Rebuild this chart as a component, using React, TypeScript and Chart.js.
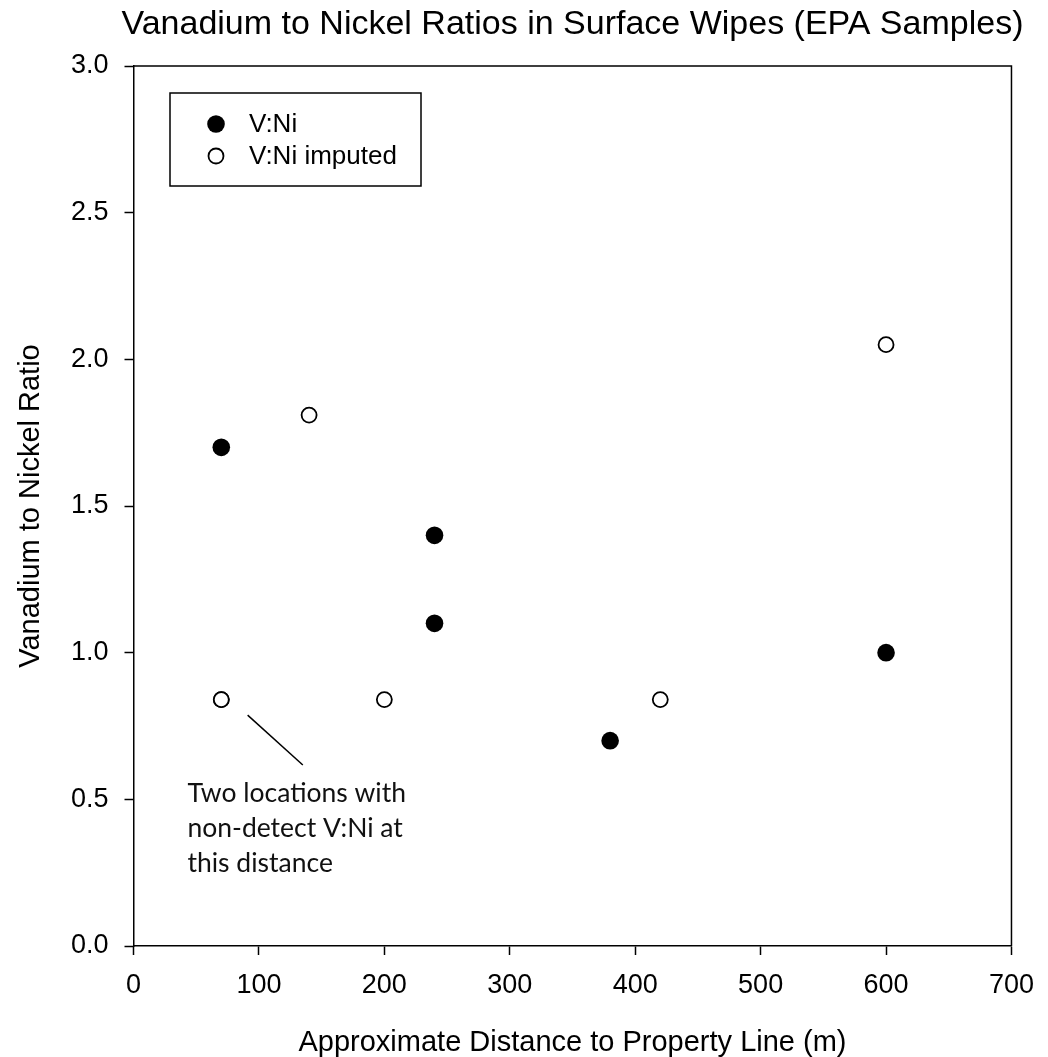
import React, { useEffect, useRef } from "react";
import { Chart, registerables } from "chart.js";

Chart.register(...registerables);

// ---- Data ----
const measuredLabel = "V:Ni";
const measuredX = [70, 240, 240, 380, 600];
const measuredY = [1.7, 1.4, 1.1, 0.7, 1.0];

const imputedLabel = "V:Ni imputed";
const imputedX = [70, 70, 140, 200, 420, 600];
const imputedY = [0.84, 0.84, 1.81, 0.84, 0.84, 2.05];

const chartTitle = "Vanadium to Nickel Ratios in Surface Wipes (EPA Samples)";
const xTitle = "Approximate Distance to Property Line (m)";
const yTitle = "Vanadium to Nickel Ratio";

const xMin = 0, xMax = 700, xStep = 100;
const yMin = 0, yMax = 3, yStep = 0.5;

// annotation (data coordinates)
const noteLines = ["Two locations with", "non-detect V:Ni at", "this distance"];
const noteAnchor = { x: 43, y: 0.491 };
const leaderFrom = { x: 91, y: 0.787 };
const leaderTo = { x: 135, y: 0.617 };

const ARIAL = '"Liberation Sans", Arial, sans-serif';

const decorPlugin = {
  id: "decor",
  afterDraw(chart: any) {
    const { ctx, chartArea: a, scales } = chart;
    const xs = scales.x, ys = scales.y;
    ctx.save();
    // frame (top & right)
    ctx.strokeStyle = "#000";
    ctx.lineWidth = 1.5;
    ctx.beginPath();
    ctx.moveTo(a.left, a.top);
    ctx.lineTo(a.right, a.top);
    ctx.lineTo(a.right, a.bottom);
    ctx.stroke();

    // title
    ctx.fillStyle = "#000";
    ctx.font = `34px ${ARIAL}`;
    ctx.textAlign = "center";
    ctx.textBaseline = "alphabetic";
    ctx.fillText(chartTitle, (a.left + a.right) / 2, 33.5);

    // x title
    ctx.font = `29px ${ARIAL}`;
    ctx.fillText(xTitle, (a.left + a.right) / 2, 1051);

    // y title
    ctx.save();
    ctx.translate(31, (a.top + a.bottom) / 2);
    ctx.rotate(-Math.PI / 2);
    ctx.textBaseline = "middle";
    ctx.fillText(yTitle, 0, 0);
    ctx.restore();

    // legend
    const bx = a.left + 36.5, by = a.top + 27, bw = 251, bh = 93;
    ctx.lineWidth = 1.5;
    ctx.strokeStyle = "#000";
    ctx.fillStyle = "#fff";
    ctx.fillRect(bx, by, bw, bh);
    ctx.strokeRect(bx, by, bw, bh);
    const ds = chart.data.datasets;
    ds.forEach((d: any, i: number) => {
      const cy = by + 31 + i * 32;
      const cx = bx + 46;
      ctx.beginPath();
      ctx.arc(cx, cy, d.pointRadius, 0, Math.PI * 2);
      ctx.fillStyle = d.pointBackgroundColor;
      ctx.fill();
      if (d.pointBorderWidth > 0) {
        ctx.lineWidth = d.pointBorderWidth;
        ctx.strokeStyle = d.pointBorderColor;
        ctx.stroke();
      }
      ctx.fillStyle = "#000";
      ctx.font = `26px ${ARIAL}`;
      ctx.textAlign = "left";
      ctx.textBaseline = "middle";
      ctx.fillText(d.label, bx + 79, cy + 1);
    });

    // annotation leader line
    ctx.strokeStyle = "#000";
    ctx.lineWidth = 1.5;
    ctx.beginPath();
    ctx.moveTo(xs.getPixelForValue(leaderFrom.x), ys.getPixelForValue(leaderFrom.y));
    ctx.lineTo(xs.getPixelForValue(leaderTo.x), ys.getPixelForValue(leaderTo.y));
    ctx.stroke();

    // annotation text
    ctx.fillStyle = "#111";
    ctx.font = `26.5px Lato, "Noto Sans", sans-serif`;
    ctx.textAlign = "left";
    ctx.textBaseline = "alphabetic";
    const tx = xs.getPixelForValue(noteAnchor.x);
    const ty = ys.getPixelForValue(noteAnchor.y);
    noteLines.forEach((t, i) => ctx.fillText(t, tx, ty + i * 35));
    ctx.restore();
  },
};

export default function App() {
  const ref = useRef<HTMLCanvasElement | null>(null);
  useEffect(() => {
    if (!ref.current) return;
    const chart = new Chart(ref.current, {
      type: "scatter",
      data: {
        datasets: [
          {
            label: measuredLabel,
            data: measuredX.map((x, i) => ({ x, y: measuredY[i] })),
            pointRadius: 8.8,
            pointHoverRadius: 8.8,
            pointBackgroundColor: "#000",
            pointBorderColor: "#000",
            pointBorderWidth: 0,
            backgroundColor: "#000",
            borderColor: "#000",
          } as any,
          {
            label: imputedLabel,
            data: imputedX.map((x, i) => ({ x, y: imputedY[i] })),
            pointRadius: 7.5,
            pointHoverRadius: 7.5,
            pointBackgroundColor: "#fff",
            pointBorderColor: "#000",
            pointBorderWidth: 1.8,
            backgroundColor: "#fff",
            borderColor: "#000",
          } as any,
        ],
      },
      options: {
        responsive: false,
        animation: false,
        events: [],
        layout: { padding: { top: 66, right: 34, left: 0, bottom: 0 } },
        plugins: {
          legend: { display: false },
          title: { display: false },
          tooltip: { enabled: false },
        },
        scales: {
          x: {
            type: "linear",
            min: xMin,
            max: xMax,
            ticks: {
              stepSize: xStep,
              color: "#000",
              font: { family: ARIAL, size: 27 },
              padding: 14,
              maxRotation: 0,
            },
            grid: {
              drawOnChartArea: false,
              drawTicks: true,
              tickLength: 9,
              tickColor: "#000",
              tickWidth: 1.5,
            },
            border: { display: true, color: "#000", width: 1.5 },
            afterFit: (s: any) => {
              s.height = 111;
            },
          },
          y: {
            type: "linear",
            min: yMin,
            max: yMax,
            ticks: {
              stepSize: yStep,
              color: "#000",
              font: { family: ARIAL, size: 27 },
              padding: 16,
              callback: (v: any) => Number(v).toFixed(1),
            },
            grid: {
              drawOnChartArea: false,
              drawTicks: true,
              tickLength: 9,
              tickColor: "#000",
              tickWidth: 1.5,
            },
            border: { display: true, color: "#000", width: 1.5 },
            afterFit: (s: any) => {
              s.width = 133.5;
            },
          },
        },
      },
      plugins: [decorPlugin],
    });
    return () => chart.destroy();
  }, []);
  return (
    <div style={{ position: "absolute", left: 0, top: 0, background: "#fff" }}>
      <canvas ref={ref} width={1048} height={1057} style={{ display: "block" }} />
    </div>
  );
}
